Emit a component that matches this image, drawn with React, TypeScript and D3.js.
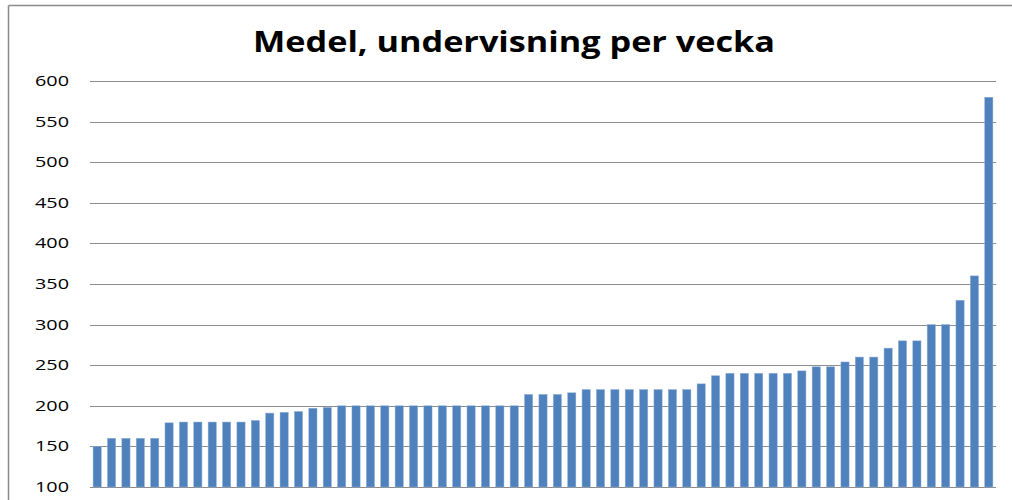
import React, { useEffect } from "react";
import * as d3 from "d3";

const title = "Medel, undervisning per vecka";
const values: number[] = [
  150, 160, 160, 160, 160, 179, 180, 180, 180, 180, 180, 182, 191, 192, 193, 197, 198,
  200, 200, 200, 200, 200, 200, 200, 200, 200, 200, 200, 200, 200,
  214, 214, 214, 216, 220, 220, 220, 220, 220, 220, 220, 220, 227, 237,
  240, 240, 240, 240, 240, 243, 248, 248, 254, 260, 260, 271, 280, 280,
  300, 300, 330, 360, 580,
];
const categories: string[] = values.map((_, i) => String(i + 1));
const yTicks: number[] = [100, 150, 200, 250, 300, 350, 400, 450, 500, 550, 600];

const W = 1012;
const H = 500;
const left = 90;
const right = 996;
const top = 81;
const bottom = 487;

export default function App() {
  useEffect(() => {
    document.body.style.overflow = "hidden";
    document.documentElement.style.overflow = "hidden";
  }, []);
  const x = d3.scaleBand<string>().domain(categories).range([left, right]).paddingInner(0.43).paddingOuter(0.215);
  const y = d3.scaleLinear().domain([100, 600]).range([bottom, top]);
  return (
    <svg
      width={W}
      height={H}
      style={{ position: "absolute", left: 0, top: 0, background: "#fff", overflow: "hidden" }}
      fontFamily="'Open Sans', 'Liberation Sans', Arial, sans-serif"
    >
      <line x1={8.5} x2={W} y1={5.5} y2={5.5} stroke="#8a8a8a" strokeWidth={1.5} />
      <line x1={8.5} x2={8.5} y1={5.5} y2={H} stroke="#8a8a8a" strokeWidth={1.5} />
      <text
        x={514}
        y={52}
        textAnchor="middle"
        fontSize={29}
        fontWeight="bold"
        fill="#000"
        textLength={522}
        lengthAdjust="spacingAndGlyphs"
      >
        {title}
      </text>
      {yTicks.map((t) => (
        <g key={t}>
          <line x1={left} x2={right} y1={Math.round(y(t)) + 0.5} y2={Math.round(y(t)) + 0.5} stroke="#8c8c8c" strokeWidth={1} />
          <text
            x={69}
            y={y(t)}
            dy="0.36em"
            textAnchor="end"
            fontSize={14}
            fill="#000"
            textLength={34}
            lengthAdjust="spacingAndGlyphs"
          >
            {t}
          </text>
        </g>
      ))}
      {values.map((v, i) => (
        <rect
          key={i}
          x={x(categories[i])}
          y={y(v)}
          width={x.bandwidth()}
          height={y(100) - y(v)}
          fill="#4F81BD"
          stroke="#8fb0d8"
          strokeWidth={0.5}
        />
      ))}
    </svg>
  );
}
